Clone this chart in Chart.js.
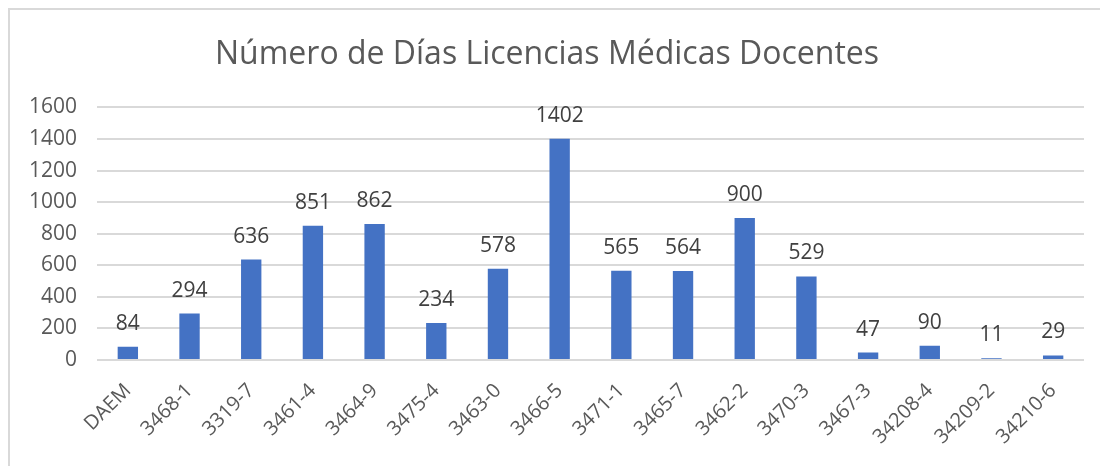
<!DOCTYPE html>
<html>
<head>
<meta charset="utf-8">
<script src="https://cdn.jsdelivr.net/npm/chart.js@4.4.1/dist/chart.umd.min.js"></script>
<style>
    html, body { margin: 0; padding: 0; background: #fff; overflow: hidden; }
    .chart-box {
        position: absolute;
        left: 8px;
        top: 8px;
        width: 1092px;
        height: 458px;
        border-left: 2px solid #d9d9d9;
        border-top: 2px solid #d9d9d9;
        box-sizing: border-box;
    }
    .chart-box canvas { display: block; }
</style>
</head>
<body>
<div class="chart-box">
    <canvas id="myChart" width="1090" height="456"></canvas>
</div>
<script>
const title = 'Número de Días Licencias Médicas Docentes'
const categories = ['DAEM', '3468-1', '3319-7', '3461-4', '3464-9', '3475-4', '3463-0', '3466-5',
    '3471-1', '3465-7', '3462-2', '3470-3', '3467-3', '34208-4', '34209-2', '34210-6']
const dias = [84, 294, 636, 851, 862, 234, 578, 1402, 565, 564, 900, 529, 47, 90, 11, 29]
const yTicks = [0, 200, 400, 600, 800, 1000, 1200, 1400, 1600]

const FONT = '"Open Sans", "Noto Sans", sans-serif'
const TEXT_GREY = '#595959'

// value labels drawn above each bar
const barValues = {
    id: 'barValues',
    afterDatasetsDraw(chart) {
        const ctx = chart.ctx
        const meta = chart.getDatasetMeta(0)
        ctx.save()
        ctx.font = '21px ' + FONT
        ctx.fillStyle = '#404040'
        ctx.textAlign = 'center'
        ctx.textBaseline = 'alphabetic'
        meta.data.forEach((bar, i) => {
            ctx.fillText(String(dias[i]), bar.x, bar.y - 17)
        })
        ctx.restore()
    }
}

new Chart(document.getElementById('myChart'), {
    type: 'bar',
    data: {
        labels: categories,
        datasets: [{
            data: dias,
            backgroundColor: '#4472c4',
            borderWidth: 0,
            barPercentage: 0.33,
            categoryPercentage: 1
        }]
    },
    options: {
        responsive: false,
        animation: false,
        layout: { padding: { left: 0, right: 16, top: 0, bottom: 0 } },
        plugins: {
            legend: { display: false },
            tooltip: { enabled: false },
            title: {
                display: true,
                text: title,
                color: TEXT_GREY,
                font: { family: FONT, size: 32, weight: 'normal', lineHeight: 1.2 },
                padding: { top: 26, bottom: 33 }
            }
        },
        scales: {
            x: {
                grid: { display: false, drawTicks: false },
                border: { display: false },
                ticks: {
                    color: TEXT_GREY,
                    font: { family: FONT, size: 20 },
                    minRotation: 45,
                    maxRotation: 45,
                    autoSkip: false,
                    padding: 19
                },
                afterFit(scale) { scale.height = 106 }
            },
            y: {
                min: 0,
                max: 1600,
                afterBuildTicks(scale) { scale.ticks = yTicks.map(v => ({ value: v })) },
                grid: { color: '#d9d9d9', lineWidth: 2, drawTicks: false },
                border: { display: false },
                ticks: {
                    color: TEXT_GREY,
                    font: { family: FONT, size: 21 },
                    padding: 20,
                    callback: v => String(v)
                },
                afterFit(scale) { scale.width = 87 }
            }
        }
    },
    plugins: [barValues]
})
</script>
</body>
</html>
